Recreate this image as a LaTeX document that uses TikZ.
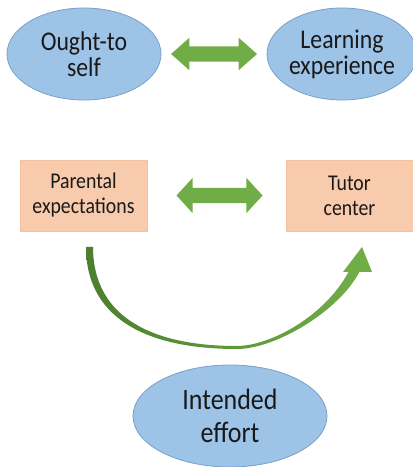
\documentclass[tikz,border=0pt]{standalone}
\usepackage{fontspec}
\setmainfont{Carlito}[FakeStretch=0.88]
\usetikzlibrary{shapes.geometric,shapes.arrows,positioning,calc}

\definecolor{ovalfill}{HTML}{9DC3E6}
\definecolor{ovaledge}{HTML}{7C9FC8}
\definecolor{boxfill}{HTML}{F8CBAD}
\definecolor{boxedge}{HTML}{F3C0A0}
\definecolor{arrowgreen}{HTML}{70AD47}
\definecolor{arrowdark}{HTML}{4C7F2E}

\tikzset{
  oval/.style={ellipse, draw=ovaledge, line width=0.8pt, fill=ovalfill,
    align=center, inner sep=0pt, text=black!90},
  factor/.style={rectangle, draw=boxedge, fill=boxfill, align=center,
    minimum width=127pt, minimum height=71pt, text=black!90,
    font=\fontsize{22.5}{25}\selectfont},
  twoway/.style={double arrow, fill=arrowgreen, minimum height=86pt,
    inner xsep=0pt, inner ysep=7.5pt, double arrow head extend=8.5pt,
    double arrow tip angle=83}
}

\begin{document}
\begin{tikzpicture}[x=1pt,y=1pt]
    \useasboundingbox (0,0) rectangle (413,467);

    % Top row
    \node[oval, minimum width=154pt, minimum height=92pt,
      font=\fontsize{27}{26}\selectfont] (ought) at (84,413) {Ought-to\\self};
    \node[oval, minimum width=142pt, minimum height=92pt,
      font=\fontsize{27}{26}\selectfont] (learn) at (342,413) {Learning\\experience};
    \node[twoway] (toplink) at ($(ought.east)!0.5!(learn.west)$) {};

    % Middle row
    \node[factor] (parent) at (83.5,271.5) {Parental\\expectations};
    \node[factor] (tutor) at (349.5,271.5) {Tutor\\center};
    \node[twoway, xshift=3pt, double arrow head extend=10pt,
      double arrow tip angle=95] (midlink) at ($(parent.east)!0.5!(tutor.west)$) {};

    % Curved arrow
    \shade[left color=arrowdark, right color=arrowgreen]
      (86,220) .. controls (86,153.7) and (138.9,118) .. (237,118)
      .. controls (275,118) and (338.9,155.3) .. (360,196)
      -- (349,196)
      .. controls (325.5,150.9) and (270,121) .. (237,121)
      .. controls (143.4,121) and (93,155.6) .. (93,220) -- cycle;
    \fill[arrowgreen] (343,195) -- (362,220) -- (372,195) -- cycle;

    % Bottom
    \node[oval, minimum width=194pt, minimum height=102pt,
      font=\fontsize{29.5}{33}\selectfont] (effort) at (230,51) {Intended\\effort};
\end{tikzpicture}
\end{document}
